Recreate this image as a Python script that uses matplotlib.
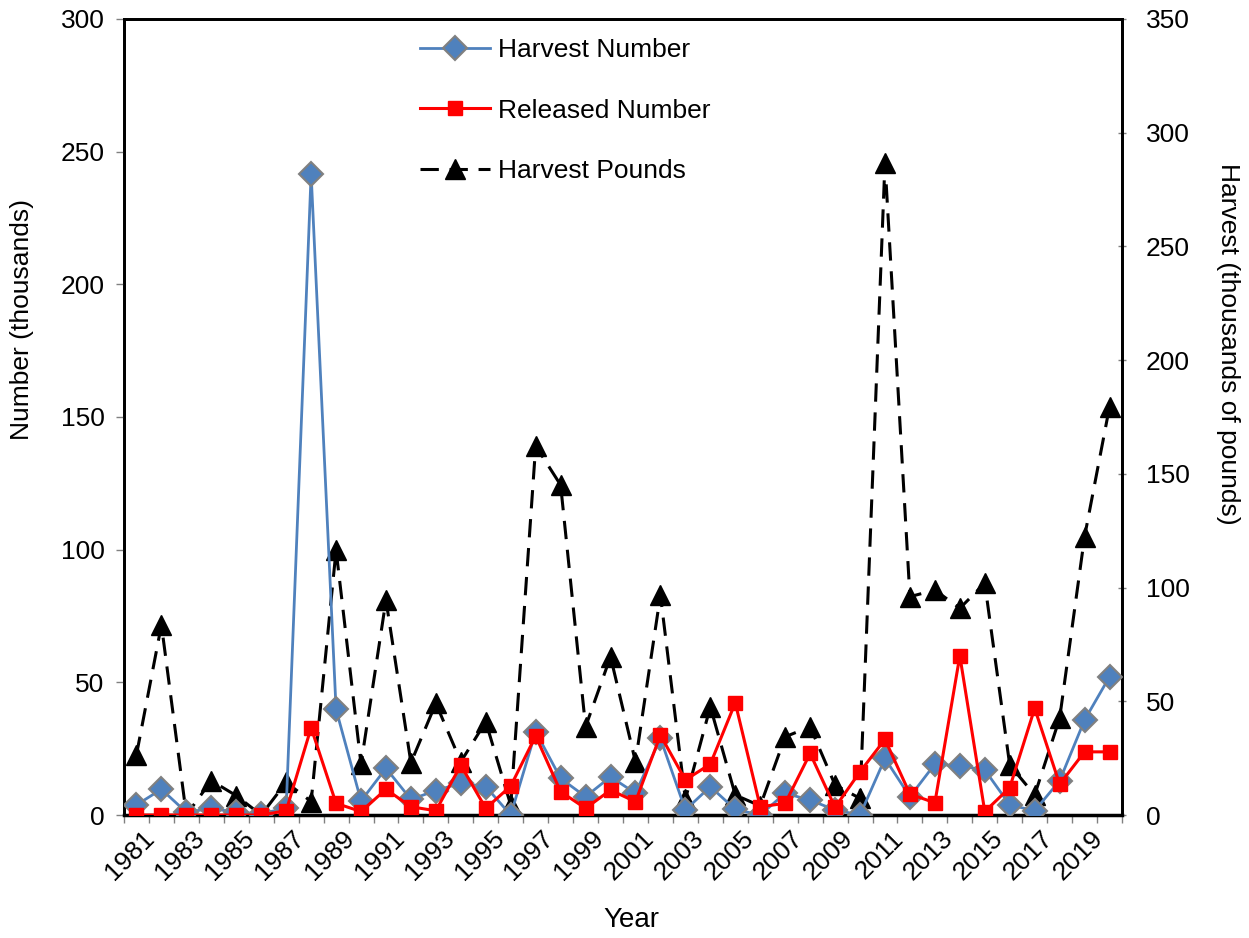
import matplotlib
matplotlib.use("Agg")
import matplotlib.pyplot as plt
import matplotlib.transforms as mtransforms
import numpy as np

plt.rcParams['font.family'] = ['Liberation Sans', 'DejaVu Sans']

years = list(range(1981, 2021))
harvest_number = [3.8, 9.7, 1.0, 2.5, 1.0, 0.5, 2.6, 241.7, 39.8, 5.3,
                  17.6, 5.9, 9.2, 12.0, 10.7, 0.0, 31.4, 13.8, 6.9, 14.4,
                  8.2, 28.9, 1.9, 10.7, 2.1, 0.0, 8.2, 5.6, 1.9, 0.0,
                  21.3, 6.9, 19.2, 18.5, 17.0, 3.8, 1.6, 12.9, 35.8, 52.1]
released_number = [0.0, 0.0, 0.0, 0.0, 0.0, 0.0, 1.6, 32.9, 4.4, 1.3,
                   9.7, 3.1, 1.6, 18.8, 2.5, 10.9, 29.8, 8.8, 2.5, 9.4,
                   5.0, 30.1, 13.2, 19.2, 42.3, 3.1, 4.4, 23.2, 2.9, 16.3,
                   28.5, 7.9, 4.6, 60.0, 1.3, 10.3, 40.2, 11.6, 23.8, 23.8]
harvest_pounds = [26.5, 83.6, 0.0, 15.1, 8.5, 0.0, 14.4, 5.9, 116.5, 22.4,
                  94.5, 23.0, 49.1, 23.4, 41.0, 4.4, 162.3, 145.1, 38.8, 69.6,
                  23.4, 96.7, 6.9, 47.6, 8.8, 4.0, 34.4, 38.8, 13.2, 7.3,
                  286.9, 96.0, 98.9, 90.9, 101.9, 22.0, 8.8, 42.5, 122.4, 179.5]
year_labels = [str(y) for y in years[::2]]

FS = 19

fig = plt.figure(figsize=(12.49, 9.38), dpi=100)
ax = fig.add_axes([124/1249, 1 - 815/938, (1122 - 124)/1249, (815 - 19)/938])
ax2 = ax.twinx()

x = np.arange(len(years))

l1, = ax.plot(x, harvest_number, color='#4F81BD', lw=2, marker='D', markersize=12,
              markerfacecolor='#4F81BD', markeredgecolor='#808080', markeredgewidth=1.5,
              label='Harvest Number', zorder=3)
l2, = ax.plot(x, released_number, color='#FF0000', lw=2.2, marker='s', markersize=10,
              markerfacecolor='#FF0000', markeredgecolor='#FF0000',
              label='Released Number', zorder=4)
l3, = ax2.plot(x, harvest_pounds, color='black', lw=2.2, dashes=(6, 3.5), marker='^',
               markersize=14, markerfacecolor='black', markeredgecolor='black',
               label='Harvest Pounds', zorder=5)

ax.set_xlim(-0.5, len(years) - 0.5)
ax.set_ylim(0, 300)
ax2.set_ylim(0, 350)
ax.set_yticks(np.arange(0, 301, 50))
ax2.set_yticks(np.arange(0, 351, 50))

ax.set_xticks(x[::2])
ax.set_xticklabels(year_labels, rotation=45, ha='right', rotation_mode='anchor', fontsize=FS)
ax.tick_params(axis='x', which='major', length=0, pad=8)
ax.set_xticks(np.arange(-0.5, len(years), 1), minor=True)
ax.tick_params(axis='x', which='minor', length=6, width=1, color='#808080', direction='out')
offset = mtransforms.ScaledTranslation(6/100, 0, fig.dpi_scale_trans)
for lab in ax.get_xticklabels():
    lab.set_transform(lab.get_transform() + offset)

ax.tick_params(axis='y', labelsize=FS, length=6, width=1, color='#808080', direction='out', pad=8)
ax2.tick_params(axis='y', labelsize=FS, length=6, width=1, color='#808080', direction='inout', pad=14)

for a in (ax, ax2):
    for s in a.spines.values():
        s.set_color('black')
        s.set_linewidth(2)
ax.spines['bottom'].set_linewidth(2.5)

ax.set_xlabel('Year', fontsize=20)
ax.xaxis.set_label_coords((631 - 124)/998, (815 - 920)/796)
ax.xaxis.label.set_va('center')
ax.set_ylabel('Number (thousands)', fontsize=FS)
ax2.set_ylabel('Harvest (thousands of pounds)', fontsize=FS, rotation=270)
ax.yaxis.set_label_coords((22 - 124)/998, (815 - 319)/796)
ax.yaxis.label.set_va('center')
ax2.yaxis.set_label_coords((1228 - 124)/998, (815 - 344)/796)
ax2.yaxis.label.set_va('center')

ax.set_zorder(ax2.get_zorder() + 1)
ax.patch.set_visible(False)

leg = ax.legend(handles=[l1, l2, l3], loc='upper left', bbox_to_anchor=(0.2966, 0.976),
                frameon=False, fontsize=FS, handlelength=2.65, labelspacing=1.38,
                handletextpad=0.3, borderaxespad=0, borderpad=0)

fig.savefig('out.png', dpi=100)
